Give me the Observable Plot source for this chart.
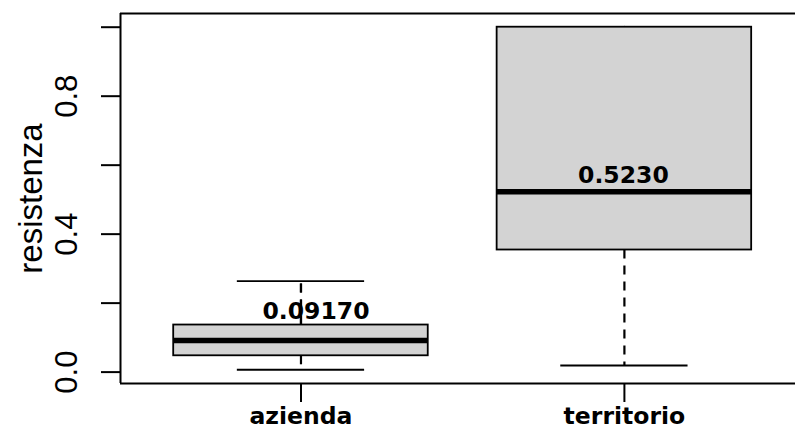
<!DOCTYPE html>
<html>
<head>
<meta charset="utf-8">
<script src="https://cdn.jsdelivr.net/npm/d3@7"></script>
<script src="https://cdn.jsdelivr.net/npm/@observablehq/plot@0.6"></script>
<style>
  html, body { margin: 0; padding: 0; background: white; overflow: hidden; }
</style>
</head>
<body>
<div id="chart"></div>
<script>
// ---- data ----
const categories = ["azienda", "territorio"];
const lowerWhisker = [0.0067, 0.0195];
const q1 = [0.0473, 0.354];
const median = [0.0917, 0.523];
const q3 = [0.1365, 1.0];
const upperWhisker = [0.264, 1.0];
const medianLabels = ["0.09170", "0.5230"];
const yTicks = [0, 0.2, 0.4, 0.6, 0.8, 1.0];
const yTickLabels = ["0.0", "", "0.4", "", "0.8", ""];
const yLabel = "resistenza";

// ---- table built from the arrays ----
const rows = categories.map((c, i) => ({
  cat: c, idx: i + 1,
  lo: lowerWhisker[i], q1: q1[i], med: median[i], q3: q3[i], hi: upperWhisker[i],
  label: medianLabels[i]
}));

const lo = d3.min(lowerWhisker), hi = d3.max(upperWhisker), r = hi - lo;
const yDomain = [lo - 0.04 * r, hi + 0.04 * r];
const xDomain = [0.442, 2.529];
const hw = 0.3935;      // half box width (x units)
const cw = hw / 2;      // half staple width

const regular = "'Liberation Sans', Arial, sans-serif";
const bold = "'DejaVu Sans', sans-serif";

const chart = Plot.plot({
  width: 795,
  height: 430,
  marginLeft: 120,
  marginRight: 0,
  marginTop: 13,
  marginBottom: 47,
  style: { background: "white" },
  x: { type: "linear", domain: xDomain, axis: null },
  y: { domain: yDomain, axis: null },
  marks: [
    // whiskers (dashed) and staples, drawn under the boxes
    Plot.ruleX(rows, { x: "idx", y1: "q1", y2: "lo", stroke: "black", strokeWidth: 2.2, strokeDasharray: "9,7" }),
    Plot.ruleX(rows, { x: "idx", y1: "q3", y2: "hi", stroke: "black", strokeWidth: 2.2, strokeDasharray: "9,7" }),
    Plot.ruleY(rows, { y: "lo", x1: d => d.idx - cw, x2: d => d.idx + cw, stroke: "black", strokeWidth: 2 }),
    Plot.ruleY(rows, { y: "hi", x1: d => d.idx - cw, x2: d => d.idx + cw, stroke: "black", strokeWidth: 1.8 }),
    // boxes
    Plot.rect(rows, { x1: d => d.idx - hw, x2: d => d.idx + hw, y1: "q1", y2: "q3",
      fill: "#d3d3d3", stroke: "black", strokeWidth: 1.8 }),
    // medians
    Plot.ruleY(rows, { y: "med", x1: d => d.idx - hw, x2: d => d.idx + hw, stroke: "black", strokeWidth: 5.4 }),
    // median labels
    Plot.text(rows.slice(0, 1), { x: "idx", y: "med", text: "label", lineAnchor: "bottom",
      dx: 15, dy: -21, fontFamily: bold, fontWeight: "bold", fontSize: 23.5, fill: "black" }),
    Plot.text(rows.slice(1, 2), { x: "idx", y: "med", text: "label", lineAnchor: "bottom",
      dx: -1, dy: -8.5, fontFamily: bold, fontWeight: "bold", fontSize: 23.5, fill: "black" }),
    // the upper whisker of the first box passes over its label
    Plot.ruleX(rows.slice(0, 1), { x: "idx", y1: "q3", y2: "hi", stroke: "black", strokeWidth: 2.2, strokeDasharray: "9,7" }),
    // frame (right side lies outside the picture)
    Plot.ruleX([xDomain[0]], { stroke: "black", strokeWidth: 2 }),
    Plot.ruleY([yDomain[0], yDomain[1]], { stroke: "black", strokeWidth: 2 }),
    // y axis ticks
    Plot.axisY({ ticks: yTicks, tickSize: 19, tickFormat: () => "", label: null,
      stroke: "black", strokeWidth: 2 }),
    // y tick labels
    Plot.text(yTicks, { y: d => d, text: (d, i) => yTickLabels[i], frameAnchor: "left",
      rotate: -90, lineAnchor: "bottom", textAnchor: "middle", dx: -44,
      fontFamily: regular, fontSize: 31, fill: "black" }),
    // y axis title
    Plot.text([yLabel], { text: d => d, frameAnchor: "left", rotate: -90, lineAnchor: "bottom",
      textAnchor: "middle", dx: -79, fontFamily: regular, fontSize: 33, fill: "black" }),
    // x axis
    Plot.axisX({ ticks: [1, 2], tickSize: 19, tickPadding: 5, tickFormat: d => categories[d - 1],
      label: null, stroke: "black", strokeWidth: 2, fontFamily: bold, fontWeight: "bold",
      fontSize: 23.5, fill: "black" })
  ]
});
document.getElementById("chart").appendChild(chart);
</script>
</body>
</html>
